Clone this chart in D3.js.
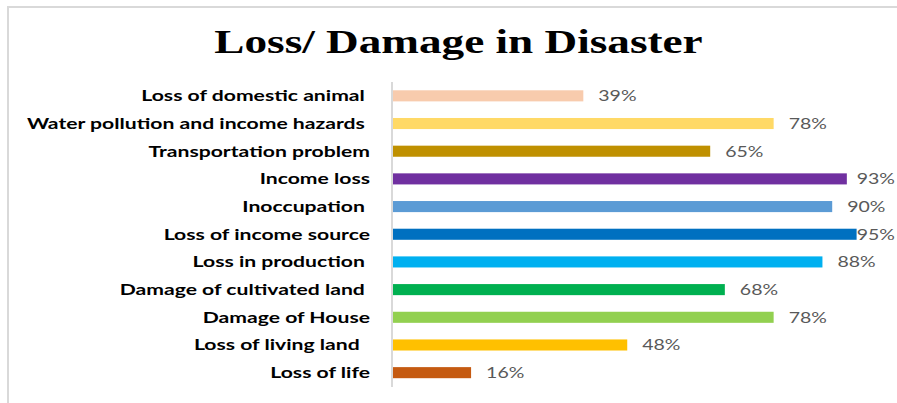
<!DOCTYPE html>
<html>
<head>
<meta charset="utf-8">
<script src="https://cdn.jsdelivr.net/npm/d3@7"></script>
<style>
  html, body { margin: 0; padding: 0; background: #fff; }
  svg { display: block; }
  text { white-space: pre; }
</style>
</head>
<body>
<svg id="chart" width="897" height="403"></svg>
<script>
// Share of respondents reporting each kind of loss or damage
const categories = [
  "Loss of domestic animal ",
  "Water pollution and income hazards ",
  "Transportation problem",
  "Income loss",
  "Inoccupation ",
  "Loss of income source",
  "Loss in production ",
  "Damage of cultivated land ",
  "Damage of House",
  "Loss of living land  ",
  "Loss of life"
];
const values = [39, 78, 65, 93, 90, 95, 88, 68, 78, 48, 16];
const colors = [
  "#F8CBAD", "#FFD966", "#BF9000", "#7030A0", "#5B9BD5", "#0070C0",
  "#00B0F0", "#00B050", "#92D050", "#FFC000", "#C55A11"
];
const title = "Loss/ Damage in Disaster";

const W = 897, H = 403;
const svg = d3.select("#chart");

// outer chart frame (runs past the right and bottom edges)
svg.append("rect")
  .attr("x", 8).attr("y", 7)
  .attr("width", W + 40).attr("height", H + 40)
  .attr("fill", "#fff")
  .attr("stroke", "#d9d9d9").attr("stroke-width", 2);

const x = d3.scaleLinear().domain([0, 100]).range([393, 881]);
const y = d3.scaleBand().domain(categories).range([82, 386.5])
  .paddingInner(0.6).paddingOuter(0.3);

const labelStretch = 1.41;
const valueStretch = 1.3;

// title
svg.append("text")
  .attr("transform", `translate(458.5,52.7) scale(1.37,1)`)
  .attr("text-anchor", "middle")
  .attr("font-family", "'Liberation Serif', 'Times New Roman', serif")
  .attr("font-weight", "bold")
  .attr("font-size", 33)
  .attr("fill", "#000")
  .text(title);

const data = categories.map((c, i) => ({ c, v: values[i], col: colors[i] }));

// bars
svg.append("g").selectAll("rect").data(data).join("rect")
  .attr("x", x(0))
  .attr("y", d => y(d.c))
  .attr("width", d => x(d.v) - x(0))
  .attr("height", y.bandwidth())
  .attr("fill", d => d.col);

// category axis line
svg.append("line")
  .attr("x1", 392).attr("x2", 392)
  .attr("y1", 82).attr("y2", 387)
  .attr("stroke", "#d9d9d9").attr("stroke-width", 2);

// category labels
svg.append("g").selectAll("text").data(data).join("text")
  .attr("transform", d => `translate(370,${y(d.c) + y.bandwidth() / 2 + 5.3}) scale(${labelStretch},1)`)
  .attr("text-anchor", "end")
  .attr("font-family", "Lato, 'Open Sans', sans-serif")
  .attr("font-weight", "bold")
  .attr("font-size", 15)
  .attr("fill", "#000")
  .text(d => d.c);

// value labels, pulled left where they would run past the right edge
svg.append("g").selectAll("text").data(data).join("text")
  .attr("text-anchor", "start")
  .attr("font-family", "Lato, 'Open Sans', sans-serif")
  .attr("font-size", 15)
  .attr("fill", "#595959")
  .text(d => d.v + "%")
  .attr("transform", function (d) {
    const w = this.getComputedTextLength() * valueStretch;
    const tx = Math.min(x(d.v) + 15, W - w - 2);
    return `translate(${tx},${y(d.c) + y.bandwidth() / 2 + 5.5}) scale(${valueStretch},1)`;
  });
</script>
</body>
</html>
